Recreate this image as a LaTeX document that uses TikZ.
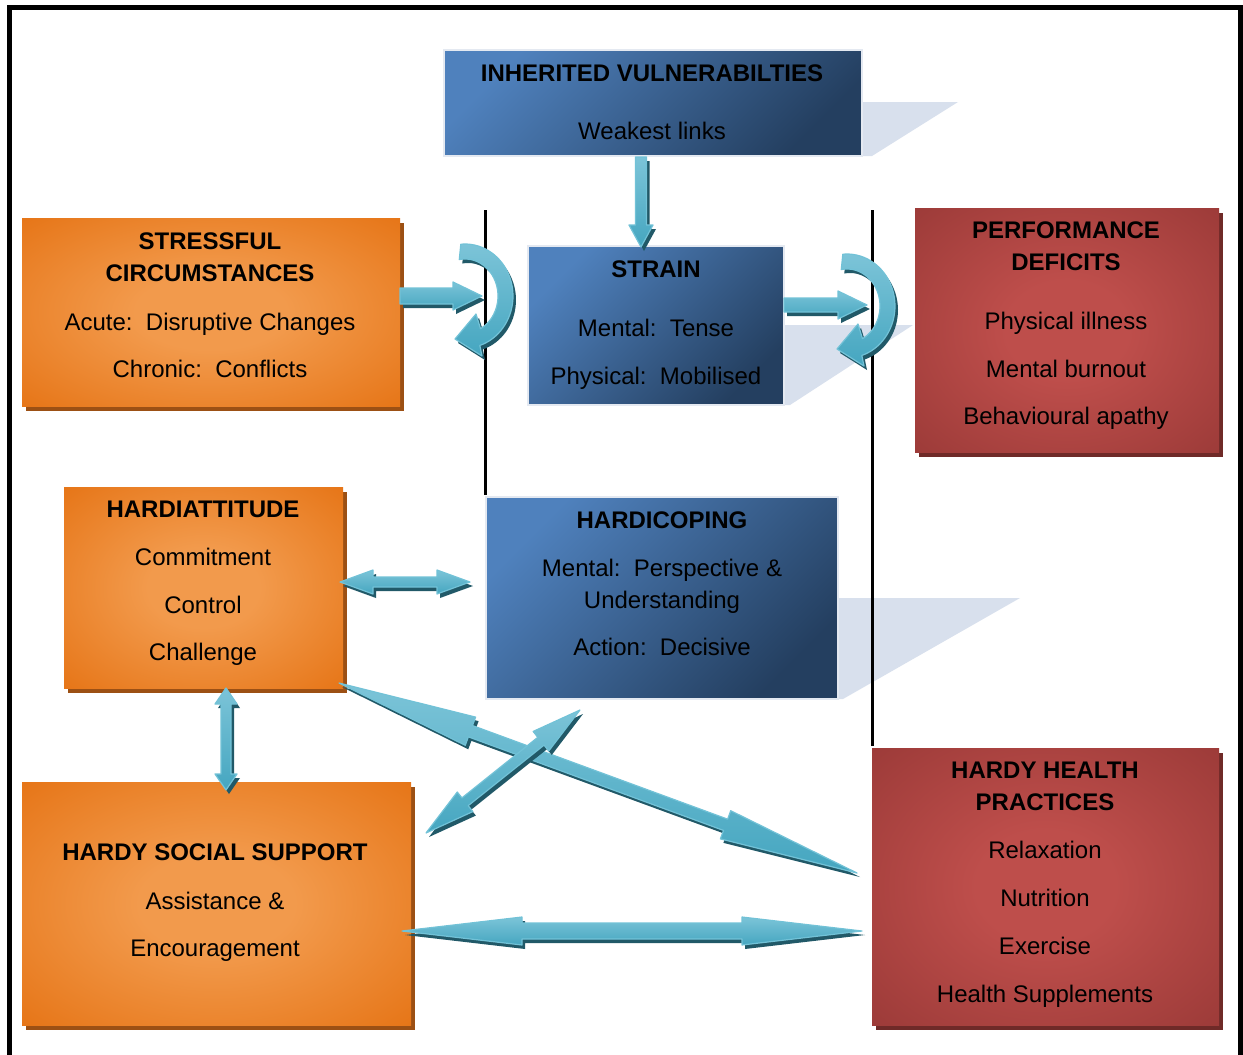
\documentclass[tikz,border=0pt]{standalone}
\usepackage{fontspec}
\setmainfont{Liberation Sans}
\usetikzlibrary{calc,shadows}

\definecolor{blueA}{HTML}{4F81BD}
\definecolor{blueB}{HTML}{243F60}
\definecolor{blueedge}{HTML}{E4E9F1}
\definecolor{persp}{HTML}{D8E0ED}
\definecolor{orangeC}{HTML}{F29A4C}
\definecolor{orangeE}{HTML}{E36C0A}
\definecolor{orangeshadow}{HTML}{9C5014}
\definecolor{redC}{HTML}{BE4E4B}
\definecolor{redE}{HTML}{943634}
\definecolor{redshadow}{HTML}{6F2A28}
\definecolor{arrowmain}{HTML}{45A6C0}
\definecolor{arrowhi}{HTML}{7CC4D8}
\definecolor{arrowedge}{HTML}{72C2D7}
\definecolor{arrowdark}{HTML}{215968}

\pgfdeclareradialshading{orangeglow}{\pgfpoint{0bp}{0bp}}{color(0bp)=(orangeC); color(10bp)=(orangeC); color(42bp)=(orangeE); color(100bp)=(orangeE)}
\pgfdeclareradialshading{redglow}{\pgfpoint{0bp}{0bp}}{color(0bp)=(redC); color(10bp)=(redC); color(42bp)=(redE); color(100bp)=(redE)}

\tikzset{
  panel/.style={inner sep=0pt, outer sep=0pt, anchor=north west},
  panelblue/.style={panel, draw=blueedge, line width=2.5pt, top color=blueA, bottom color=blueB, shading angle=45},
  panelorange/.style={panel, shading=orangeglow, general shadow={fill=orangeshadow, shadow xshift=4pt, shadow yshift=-5pt}},
  panelred/.style={panel, shading=redglow, general shadow={fill=redshadow, shadow xshift=4pt, shadow yshift=-5pt}},
  paneltext/.style={font=\fontsize{24}{32}\selectfont\frenchspacing, align=center, inner sep=0pt, anchor=north},
  arrowbody/.style={draw=arrowedge, line width=1.2pt, line join=round, top color=arrowhi, bottom color=arrowmain},
  arrowshade/.style={fill=arrowdark, transform canvas={xshift=3pt, yshift=-4pt}},
  divider/.style={line width=3pt},
}

% double-headed block arrow: tag, end A, end B, head length, head half-width, shaft half-width
\newcommand\twowayarrow[6]{%
  \coordinate (#1-ha) at ($(#2)!#4!(#3)$);
  \coordinate (#1-hb) at ($(#3)!#4!(#2)$);
  \coordinate (#1-1) at ($(#1-ha)!#5!90:(#3)$);
  \coordinate (#1-2) at ($(#1-ha)!#6!90:(#3)$);
  \coordinate (#1-3) at ($(#1-hb)!#6!-90:(#2)$);
  \coordinate (#1-4) at ($(#1-hb)!#5!-90:(#2)$);
  \coordinate (#1-5) at ($(#1-hb)!#5!90:(#2)$);
  \coordinate (#1-6) at ($(#1-hb)!#6!90:(#2)$);
  \coordinate (#1-7) at ($(#1-ha)!#6!-90:(#3)$);
  \coordinate (#1-8) at ($(#1-ha)!#5!-90:(#3)$);
  \fill[arrowshade] (#2) -- (#1-1) -- (#1-2) -- (#1-3) -- (#1-4) -- (#3) -- (#1-5) -- (#1-6) -- (#1-7) -- (#1-8) -- cycle;
  \draw[arrowbody] (#2) -- (#1-1) -- (#1-2) -- (#1-3) -- (#1-4) -- (#3) -- (#1-5) -- (#1-6) -- (#1-7) -- (#1-8) -- cycle;
}

% single-headed block arrow from A to B
\newcommand\onewayarrow[6]{%
  \coordinate (#1-hb) at ($(#3)!#4!(#2)$);
  \coordinate (#1-1) at ($(#2)!#6!-90:(#3)$);
  \coordinate (#1-2) at ($(#1-hb)!#6!90:(#2)$);
  \coordinate (#1-3) at ($(#1-hb)!#5!90:(#2)$);
  \coordinate (#1-4) at ($(#1-hb)!#5!-90:(#2)$);
  \coordinate (#1-5) at ($(#1-hb)!#6!-90:(#2)$);
  \coordinate (#1-6) at ($(#2)!#6!90:(#3)$);
  \fill[arrowshade] (#1-1) -- (#1-2) -- (#1-3) -- (#3) -- (#1-4) -- (#1-5) -- (#1-6) -- cycle;
  \draw[arrowbody] (#1-1) -- (#1-2) -- (#1-3) -- (#3) -- (#1-4) -- (#1-5) -- (#1-6) -- cycle;
}

% U-turn arrow outline, centred on the origin
\newcommand\bendarrowpath{plot[domain=-95:72,samples=40] ({48*cos(\x)},{52*sin(\x)}) -- (17,60) -- (-10,43) -- (11,18) -- plot[domain=62:-100,samples=40] ({33*cos(\x)},{37*sin(\x)}) -- cycle}

\begin{document}
\begin{tikzpicture}[x=1pt, y=-1pt]
\fill[white] (0,0) rectangle (1243,1055);
\useasboundingbox (0,0) rectangle (1243,1055);

% perspective shadows behind the blue panels
\fill[persp] (860,102) -- (958,102) -- (872,156) -- (860,156) -- cycle;
\fill[persp] (780,325) -- (913,325) -- (790,405) -- (780,405) -- cycle;
\fill[persp] (835,598) -- (1020,598) -- (843,699) -- (835,699) -- cycle;

% outer frame (open at the bottom)
\draw[line width=5pt] (9.5,1060) -- (9.5,7.5) -- (1240.5,7.5) -- (1240.5,1060);

% vertical dividers
\draw[divider] (485,210) -- (485,495);
\draw[divider] (872,210) -- (872,746);

% panels
\node[panelblue, minimum width=418pt, minimum height=106pt] (inh) at (444,50) {};
\node[panelblue, minimum width=256pt, minimum height=159pt] (strain) at (528,246) {};
\node[panelblue, minimum width=352pt, minimum height=202pt] (coping) at (486,497) {};
\node[panelorange, minimum width=378pt, minimum height=188pt] (stress) at (22,218) {};
\node[panelred, minimum width=304pt, minimum height=244pt] (perf) at (915,208) {};
\node[panelorange, minimum width=279pt, minimum height=201pt] (attitude) at (64,487) {};
\node[panelorange, minimum width=389pt, minimum height=243pt] (social) at (22,782) {};
\node[panelred, minimum width=347pt, minimum height=277pt] (health) at (872,748) {};

% panel texts
\node[paneltext] (inh-t) at (652,65) {\textbf{INHERITED VULNERABILTIES}\\[26pt] Weakest links};
\node[paneltext] (strain-t) at (656,261) {\textbf{STRAIN}\\[27pt] Mental:~ Tense\\[16pt] Physical:~ Mobilised};
\node[paneltext] (stress-t) at (210,233) {\textbf{STRESSFUL}\\ \textbf{CIRCUMSTANCES}\\[17pt] Acute:~ Disruptive Changes\\[15pt] Chronic:~ Conflicts};
\node[paneltext] (perf-t) at (1066,222) {\textbf{PERFORMANCE}\\ \textbf{DEFICITS}\\[27pt] Physical illness\\[16pt] Mental burnout\\[15pt] Behavioural apathy};
\node[paneltext] (attitude-t) at (203,501) {\textbf{HARDIATTITUDE}\\[16pt] Commitment\\[16pt] Control\\[15pt] Challenge};
\node[paneltext] (coping-t) at (662,512) {\textbf{HARDICOPING}\\[16pt] Mental:~ Perspective \&\\ Understanding\\[15pt] Action:~ Decisive};
\node[paneltext] (social-t) at (215,844) {\textbf{HARDY SOCIAL SUPPORT}\\[17pt] Assistance \&\\[15pt] Encouragement};
\node[paneltext] (health-t) at (1045,762) {\textbf{HARDY HEALTH}\\ \textbf{PRACTICES}\\[16pt] Relaxation\\[16pt] Nutrition\\[16pt] Exercise\\[16pt] Health Supplements};

% arrow end points
\coordinate (inh-out) at (641,157);
\coordinate (strain-in) at (641,247);
\coordinate (stress-out) at (400,296);
\coordinate (wall-l) at (482,296);
\coordinate (strain-out) at (784,305);
\coordinate (wall-r) at (867,305);
\coordinate (att-r) at (340,582);
\coordinate (cop-l) at (470,582);
\coordinate (att-b) at (226,688);
\coordinate (soc-t) at (226,790);
\coordinate (soc-r) at (402,931);
\coordinate (hea-l) at (862,931);
\coordinate (att-c) at (339,683);
\coordinate (hea-c) at (857,873);
\coordinate (soc-c) at (426,833);
\coordinate (cop-c) at (580,710);

% straight arrows
\onewayarrow{a1}{inh-out}{strain-in}{22pt}{12pt}{5.5pt}
\onewayarrow{a2}{stress-out}{wall-l}{29pt}{14pt}{8pt}
\onewayarrow{a3}{strain-out}{wall-r}{29pt}{14pt}{7pt}
\twowayarrow{b1}{att-r}{cop-l}{33pt}{12pt}{5pt}
\twowayarrow{b2}{att-b}{soc-t}{16pt}{11pt}{5pt}
\twowayarrow{b3}{att-c}{hea-c}{140pt}{15pt}{6pt}
\twowayarrow{b4}{soc-c}{cop-c}{50pt}{12.5pt}{5pt}
\twowayarrow{b5}{soc-r}{hea-l}{120pt}{14pt}{8pt}

% U-turn arrows bouncing off the dividers
\begin{scope}[shift={(465,296)}]
  \fill[arrowshade] \bendarrowpath;
  \draw[arrowbody] \bendarrowpath;
\end{scope}
\begin{scope}[shift={(847,306)}]
  \fill[arrowshade] \bendarrowpath;
  \draw[arrowbody] \bendarrowpath;
\end{scope}
\end{tikzpicture}
\end{document}
